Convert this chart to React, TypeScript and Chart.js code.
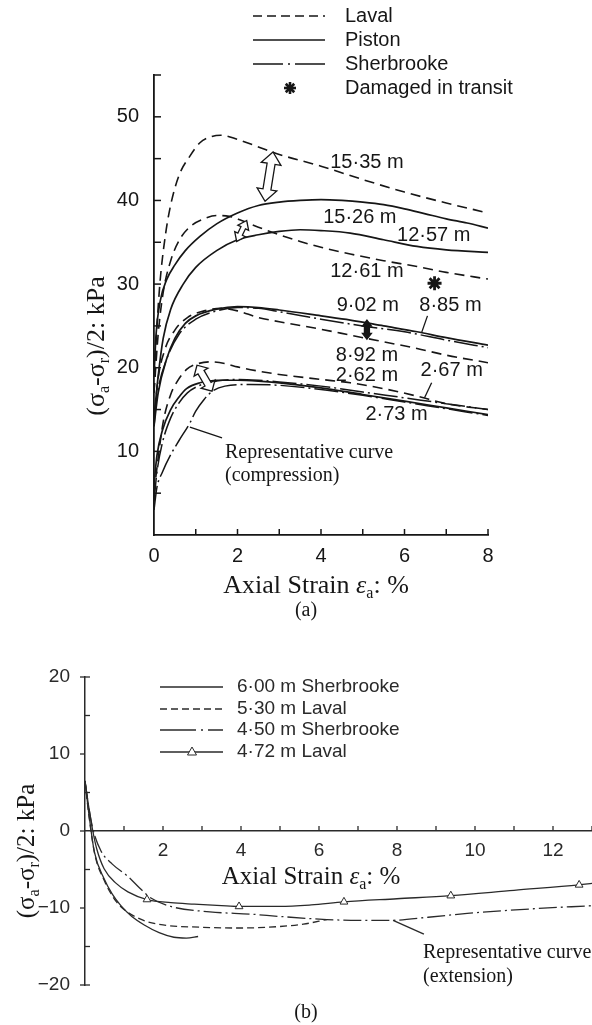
import React, { useEffect, useRef } from 'react';
import { Chart, registerables } from 'chart.js';

Chart.register(...registerables);

type P = [number, number];

// ---------- Figure (a): compression, (sigma_a - sigma_r)/2 vs axial strain ----------
const aXMax = 8;
const aYMax = 55;
const laval1535: P[] = [[0, 17], [0.05, 23], [0.14, 30], [0.25, 35], [0.38, 39], [0.6, 43], [0.86, 45.3], [1.1, 46.9], [1.35, 47.6], [1.6, 47.8], [2.0, 47.3], [2.5, 46.4], [3, 45.5], [4, 44.1], [5, 42.5], [6, 41.0], [7, 39.7], [8, 38.5]];
const piston1526: P[] = [[0, 19], [0.05, 24], [0.15, 28], [0.3, 30.5], [0.5, 32.3], [0.75, 34], [1.1, 35.7], [1.5, 37.2], [2, 38.5], [2.5, 39.4], [3, 39.8], [3.5, 40], [4, 40.1], [4.5, 40], [5, 39.8], [5.5, 39.5], [6, 39], [6.5, 38.4], [7, 37.8], [7.5, 37.3], [8, 36.7]];
const laval1261: P[] = [[0, 17], [0.1, 24], [0.22, 29], [0.4, 32.8], [0.6, 35.2], [0.85, 36.8], [1.2, 37.8], [1.5, 38.2], [1.8, 38.1], [2.1, 37.6], [2.5, 36.8], [3, 35.9], [3.5, 35.1], [4, 34.4], [4.7, 33.6], [5.5, 32.8], [6.3, 32.1], [7, 31.4], [8, 30.6]];
const piston1257: P[] = [[0, 14], [0.1, 19], [0.22, 23.5], [0.4, 27], [0.7, 30], [1, 32], [1.5, 34], [2, 35.3], [2.5, 35.9], [3, 36.3], [3.5, 36.5], [4, 36.4], [4.7, 36.1], [5.5, 35.3], [6.3, 34.5], [7, 34.1], [8, 33.8]];
const piston902: P[] = [[0, 13], [0.1, 17], [0.3, 21], [0.5, 23.5], [0.75, 25.3], [1, 26.2], [1.5, 27], [2, 27.3], [2.5, 27.2], [3, 26.9], [4, 26.2], [4.7, 25.7], [5.5, 25], [6.3, 24.3], [7, 23.6], [8, 22.7]];
const laval892: P[] = [[0, 13], [0.08, 18], [0.25, 22], [0.5, 24.5], [0.8, 26], [1.2, 26.8], [1.6, 27.1], [2, 26.8], [2.5, 26], [3, 25.5], [4, 24.6], [4.7, 23.9], [5.5, 23.1], [6.3, 22.3], [7, 21.5], [8, 20.6]];
const sher885: P[] = [[0, 14], [0.1, 17.5], [0.3, 21], [0.6, 24], [1, 25.8], [1.5, 26.8], [2, 27.2], [2.5, 27.1], [3, 26.7], [4, 25.8], [5, 25], [6, 24.3], [7, 23.3], [8, 22.4]];
const laval262: P[] = [[0, 5], [0.07, 8], [0.22, 13.5], [0.4, 16.8], [0.55, 18.3], [0.78, 19.8], [1, 20.4], [1.34, 20.7], [1.7, 20.5], [2, 20.1], [2.5, 19.6], [3, 19.2], [4, 18.6], [4.7, 18.2], [5.5, 17.5], [6.3, 16.6], [7, 15.7], [8, 15]];
const piston273: P[] = [[0, 6], [0.07, 9.5], [0.2, 12.5], [0.4, 15], [0.6, 16.5], [0.78, 17.5], [1.1, 18.2], [1.5, 18.5], [2, 18.5], [2.5, 18.4], [3, 18.2], [4, 17.6], [5, 16.8], [6, 16], [7, 15.2], [8, 14.4]];
const sher267: P[] = [[0, 4], [0.07, 7.5], [0.2, 11], [0.4, 14], [0.6, 15.8], [0.8, 17], [1.1, 17.9], [1.5, 18.4], [2, 18.6], [2.5, 18.5], [3, 18.3], [4, 17.8], [5, 17.1], [6, 16.4], [7, 15.7], [8, 15.0]];
const repCompression: P[] = [[0, 3], [0.07, 5.7], [0.2, 7.5], [0.4, 9.6], [0.6, 11.3], [0.86, 13.4], [1.0, 14.8], [1.2, 16.2], [1.4, 17.2], [1.7, 17.8], [2.3, 18.0], [3, 17.9], [4, 17.4], [5, 16.7], [6, 15.9], [7, 15.1], [8, 14.3]];
const damagedInTransit: P[] = [[6.72, 30.1]];

// ---------- Figure (b): extension ----------
const bXMax = 13;
const bYMin = -20;
const bYMax = 20;
const sher600: P[] = [[0, 6.5], [0.1, 2.2], [0.24, -2.7], [0.49, -6.2], [0.7, -8.2], [0.92, -9.7], [1.2, -11.1], [1.52, -12.2], [1.9, -13.2], [2.28, -13.8], [2.6, -13.9], [2.9, -13.7]];
const laval530: P[] = [[0, 6.5], [0.1, 2], [0.25, -3], [0.5, -6.5], [0.75, -8.8], [1, -10.2], [1.5, -11.6], [2, -12.2], [3, -12.5], [4, -12.6], [5, -12.4], [5.6, -12.1], [6.2, -11.5]];
const sher450: P[] = [[0, 6.5], [0.1, 3], [0.2, 0.3], [0.41, -2.6], [0.7, -4.3], [1.1, -5.9], [1.4, -7.4], [1.69, -8.7], [2.2, -9.8], [3.2, -10.5], [4.26, -10.8], [5, -11.1], [6.2, -11.5], [7, -11.6], [7.85, -11.6], [8.8, -11.2], [9.8, -10.7], [11.5, -10.1], [13, -9.7]];
const laval472: P[] = [[0, 6.5], [0.1, 3], [0.2, 0], [0.3, -2.3], [0.49, -4.9], [0.8, -6.8], [1.1, -7.9], [1.59, -8.9], [2.2, -9.3], [2.8, -9.5], [3.5, -9.7], [3.95, -9.8], [5, -9.8], [5.8, -9.6], [6.64, -9.2], [8, -8.8], [9.38, -8.4], [11, -7.7], [12.67, -7.0], [13, -6.8]];
const laval472Markers = [1.59, 3.95, 6.64, 9.38, 12.67];

// ---------- annotation texts ----------
const aCurveLabels: { text: string; x: number; y: number }[] = [
  { text: '15·35 m', x: 5.1, y: 44.5 },
  { text: '15·26 m', x: 4.93, y: 38.0 },
  { text: '12·57 m', x: 6.7, y: 35.8 },
  { text: '12·61 m', x: 5.1, y: 31.5 },
  { text: '9·02 m', x: 5.12, y: 27.5 },
  { text: '8·85 m', x: 7.1, y: 27.5 },
  { text: '8·92 m', x: 5.1, y: 21.5 },
  { text: '2·62 m', x: 5.1, y: 19.1 },
  { text: '2·67 m', x: 7.13, y: 19.7 },
  { text: '2·73 m', x: 5.81, y: 14.35 },
];
const aArrows = [
  { from: [2.85, 45.8], to: [2.66, 39.9], head: 12, half: 10, shaft: 4, filled: false },
  { from: [2.22, 37.6], to: [1.98, 35.1], head: 8, half: 6, shaft: 2.5, filled: false },
  { from: [5.1, 25.7], to: [5.1, 23.4], head: 6, half: 4.5, shaft: 2.5, filled: true },
  { from: [1.03, 20.3], to: [1.39, 17.2], head: 8, half: 8, shaft: 3.5, filled: false },
];
const aLeaders: [P, P][] = [
  [[6.55, 26.2], [6.41, 24.2]],
  [[6.65, 18.2], [6.48, 16.4]],
  [[0.86, 12.9], [1.63, 11.6]],
];
const bLeaders: [P, P][] = [[[7.9, -11.6], [8.69, -13.4]]];

const SANS = "'Liberation Sans', Arial, Helvetica, sans-serif";
const SERIF = "'Liberation Serif', 'Times New Roman', Times, serif";
const INK = '#161616';
const INK_B = '#2a2a2a';
const DASH_A = [10, 6];
const DASHDOT_A = [24, 4, 2, 4];
const DASH_B = [7, 4];
const DASHDOT_B = [18, 4, 2, 4];

const toXY = (pts: P[]) => pts.map(([x, y]) => ({ x, y }));

function curve(pts: P[], dash: number[], width: number, color: string) {
  return {
    type: 'line',
    data: toXY(pts),
    borderColor: color,
    borderWidth: width,
    borderDash: dash,
    pointRadius: 0,
    fill: false,
    cubicInterpolationMode: 'monotone',
  };
}

function seg(ctx: CanvasRenderingContext2D, x1: number, y1: number, x2: number, y2: number) {
  ctx.beginPath();
  ctx.moveTo(x1, y1);
  ctx.lineTo(x2, y2);
  ctx.stroke();
}

type Part = { t: string; sub?: boolean; italic?: boolean };
function drawRich(ctx: CanvasRenderingContext2D, parts: Part[], x: number, y: number, size: number, family: string, align: 'center' | 'left' = 'center') {
  const font = (p: Part) => `${p.italic ? 'italic ' : ''}${p.sub ? Math.round(size * 0.62) : size}px ${family}`;
  let w = 0;
  for (const p of parts) { ctx.font = font(p); w += ctx.measureText(p.t).width; }
  let cx = align === 'center' ? x - w / 2 : x;
  ctx.textAlign = 'left';
  ctx.textBaseline = 'middle';
  for (const p of parts) {
    ctx.font = font(p);
    ctx.fillText(p.t, cx, y + (p.sub ? size * 0.3 : 0));
    cx += ctx.measureText(p.t).width;
  }
}

function text(ctx: CanvasRenderingContext2D, t: string, x: number, y: number, size: number, family: string, align: CanvasTextAlign = 'left') {
  ctx.font = `${size}px ${family}`;
  ctx.textAlign = align;
  ctx.textBaseline = 'middle';
  ctx.fillText(t, x, y);
}

function doubleArrow(ctx: CanvasRenderingContext2D, x1: number, y1: number, x2: number, y2: number, h: number, w: number, s: number, filled: boolean) {
  const dx = x2 - x1, dy = y2 - y1, L = Math.hypot(dx, dy);
  const ux = dx / L, uy = dy / L, nx = -uy, ny = ux;
  const Pt = (bx: number, by: number, a: number, b: number) => [bx + ux * a + nx * b, by + uy * a + ny * b];
  const pts = [
    [x1, y1], Pt(x1, y1, h, w), Pt(x1, y1, h, s), Pt(x2, y2, -h, s), Pt(x2, y2, -h, w),
    [x2, y2], Pt(x2, y2, -h, -w), Pt(x2, y2, -h, -s), Pt(x1, y1, h, -s), Pt(x1, y1, h, -w),
  ];
  ctx.beginPath();
  pts.forEach((p, i) => (i ? ctx.lineTo(p[0], p[1]) : ctx.moveTo(p[0], p[1])));
  ctx.closePath();
  ctx.fillStyle = filled ? INK : '#fff';
  ctx.fill();
  ctx.lineWidth = 1.3;
  ctx.strokeStyle = INK;
  ctx.stroke();
}

function asterisk(ctx: CanvasRenderingContext2D, x: number, y: number, r: number, lw: number) {
  ctx.lineWidth = lw;
  for (let k = 0; k < 4; k++) {
    const a = (k * Math.PI) / 4;
    seg(ctx, x - r * Math.cos(a), y - r * Math.sin(a), x + r * Math.cos(a), y + r * Math.sin(a));
  }
}

function triangle(ctx: CanvasRenderingContext2D, x: number, y: number, r: number) {
  ctx.beginPath();
  ctx.moveTo(x, y - r);
  ctx.lineTo(x + r * 0.9, y + r * 0.6);
  ctx.lineTo(x - r * 0.9, y + r * 0.6);
  ctx.closePath();
  ctx.fillStyle = '#fff';
  ctx.fill();
  ctx.stroke();
}

const decorA = {
  id: 'decorA',
  afterDatasetsDraw(chart: any) {
    const ctx: CanvasRenderingContext2D = chart.ctx;
    const xs = chart.scales.x, ys = chart.scales.y;
    const X = (v: number) => xs.getPixelForValue(v);
    const Y = (v: number) => ys.getPixelForValue(v);
    ctx.save();
    ctx.strokeStyle = INK;
    ctx.fillStyle = INK;
    ctx.setLineDash([]);
    // inward tick marks
    ctx.lineWidth = 1.5;
    for (let v = 1; v <= aXMax; v++) seg(ctx, X(v), ys.bottom, X(v), ys.bottom - 6);
    for (let v = 5; v <= aYMax; v += 5) seg(ctx, xs.left, Y(v), xs.left + 7, Y(v));
    // leader lines
    ctx.lineWidth = 1.3;
    for (const [p, q] of aLeaders) seg(ctx, X(p[0]), Y(p[1]), X(q[0]), Y(q[1]));
    // arrows
    for (const a of aArrows) doubleArrow(ctx, X(a.from[0]), Y(a.from[1]), X(a.to[0]), Y(a.to[1]), a.head, a.half, a.shaft, a.filled);
    // curve labels
    ctx.fillStyle = INK;
    for (const l of aCurveLabels) text(ctx, l.text, X(l.x), Y(l.y), 20, SANS, 'center');
    text(ctx, 'Representative curve', X(1.7), Y(9.8), 20, SERIF, 'left');
    text(ctx, '(compression)', X(1.7), Y(7.1), 20, SERIF, 'left');
    // legend
    const rows = [
      { label: 'Laval', dash: [9, 5], y: 16 },
      { label: 'Piston', dash: [] as number[], y: 40 },
      { label: 'Sherbrooke', dash: [30, 5, 2, 5], y: 64 },
    ];
    ctx.lineWidth = 1.6;
    for (const r of rows) {
      ctx.setLineDash(r.dash);
      seg(ctx, 253, r.y, 325, r.y);
      ctx.setLineDash([]);
      text(ctx, r.label, 345, r.y, 20, SANS);
    }
    asterisk(ctx, 290, 88, 6, 2.6);
    text(ctx, 'Damaged in transit', 345, 88, 20, SANS);
    // axis titles
    drawRich(ctx, [{ t: 'Axial Strain ' }, { t: 'ε', italic: true }, { t: 'a', sub: true }, { t: ': %' }], 316, 586, 26, SERIF);
    ctx.save();
    ctx.translate(97, 346);
    ctx.rotate(-Math.PI / 2);
    drawRich(ctx, [{ t: '(σ' }, { t: 'a', sub: true }, { t: '-σ' }, { t: 'r', sub: true }, { t: ')/2: kPa' }], 0, 0, 26, SERIF);
    ctx.restore();
    text(ctx, '(a)', 306, 611, 20, SERIF, 'center');
    ctx.restore();
  },
};

const decorB = {
  id: 'decorB',
  afterDatasetsDraw(chart: any) {
    const ctx: CanvasRenderingContext2D = chart.ctx;
    const xs = chart.scales.x, ys = chart.scales.y;
    const X = (v: number) => xs.getPixelForValue(v);
    const Y = (v: number) => ys.getPixelForValue(v);
    ctx.save();
    ctx.strokeStyle = INK_B;
    ctx.fillStyle = INK_B;
    ctx.setLineDash([]);
    ctx.lineWidth = 1.3;
    for (let v = 1; v <= bXMax; v++) seg(ctx, X(v), Y(0), X(v), Y(0) - 5);
    for (let v = bYMin; v <= bYMax; v += 5) {
      if (v % 10 === 0) seg(ctx, xs.left - 5, Y(v), xs.left, Y(v));
      else seg(ctx, xs.left, Y(v), xs.left + 5, Y(v));
    }
    seg(ctx, xs.left, Y(bYMax), xs.left + 5, Y(bYMax));
    seg(ctx, xs.left, Y(bYMin), xs.left + 5, Y(bYMin));
    for (const [p, q] of bLeaders) seg(ctx, X(p[0]), Y(p[1]), X(q[0]), Y(q[1]));
    // legend
    const rows = [
      { label: '6·00 m Sherbrooke', dash: [] as number[], y: 57 },
      { label: '5·30 m Laval', dash: [7, 4], y: 79 },
      { label: '4·50 m Sherbrooke', dash: [36, 5, 2, 5], y: 100 },
      { label: '4·72 m Laval', dash: [] as number[], y: 122, tri: true },
    ];
    ctx.lineWidth = 1.3;
    for (const r of rows) {
      ctx.setLineDash(r.dash);
      seg(ctx, 160, r.y, 223, r.y);
      ctx.setLineDash([]);
      if ((r as any).tri) { ctx.lineWidth = 1; triangle(ctx, 192, r.y, 5); ctx.lineWidth = 1.3; }
      ctx.fillStyle = INK_B;
      text(ctx, r.label, 237, r.y, 19, SANS);
    }
    // titles and notes
    ctx.fillStyle = INK;
    drawRich(ctx, [{ t: 'Axial Strain ' }, { t: 'ε', italic: true }, { t: 'a', sub: true }, { t: ': %' }], 311, 247, 25, SERIF);
    ctx.save();
    ctx.translate(27, 221);
    ctx.rotate(-Math.PI / 2);
    drawRich(ctx, [{ t: '(σ' }, { t: 'a', sub: true }, { t: '-σ' }, { t: 'r', sub: true }, { t: ')/2: kPa' }], 0, 0, 25, SERIF);
    ctx.restore();
    text(ctx, 'Representative curve', 423, 323, 20, SERIF, 'left');
    text(ctx, '(extension)', 423, 347, 20, SERIF, 'left');
    text(ctx, '(b)', 306, 383, 20, SERIF, 'center');
    ctx.restore();
  },
};

function configA(): any {
  return {
    type: 'line',
    data: {
      datasets: [
        curve(laval1535, DASH_A, 1.6, INK),
        curve(piston1526, [], 1.7, INK),
        curve(laval1261, DASH_A, 1.6, INK),
        curve(piston1257, [], 1.7, INK),
        curve(piston902, [], 1.7, INK),
        curve(laval892, DASH_A, 1.6, INK),
        curve(sher885, DASHDOT_A, 1.5, INK),
        curve(laval262, DASH_A, 1.6, INK),
        curve(piston273, [], 1.7, INK),
        curve(sher267, DASHDOT_A, 1.5, INK),
        curve(repCompression, DASHDOT_A, 1.5, INK),
        {
          type: 'scatter',
          data: toXY(damagedInTransit),
          showLine: false,
          pointStyle: 'star',
          pointRadius: 7,
          borderWidth: 2.8,
          borderColor: INK,
          backgroundColor: INK,
        },
      ],
    },
    options: {
      responsive: false,
      animation: false,
      devicePixelRatio: 1,
      layout: { padding: { top: 75, right: 104, left: 0, bottom: 0 } },
      plugins: { legend: { display: false }, tooltip: { enabled: false } },
      scales: {
        x: {
          type: 'linear', min: 0, max: aXMax,
          grid: { display: false },
          border: { display: true, color: INK, width: 1.8 },
          ticks: {
            stepSize: 1, autoSkip: false, maxRotation: 0, padding: 1, color: INK,
            font: { family: SANS, size: 20 },
            callback: (v: number) => (v % 2 === 0 ? String(v) : ''),
          },
          afterFit: (s: any) => { s.height = 95; },
        },
        y: {
          type: 'linear', min: 0, max: aYMax,
          grid: { display: false },
          border: { display: true, color: INK, width: 1.8 },
          ticks: {
            stepSize: 5, autoSkip: false, padding: 7, color: INK,
            font: { family: SANS, size: 20 },
            callback: (v: number) => (v > 0 && v % 10 === 0 ? String(v) : ''),
          },
          afterFit: (s: any) => { s.width = 154; },
        },
      },
    },
    plugins: [decorA],
  };
}

function configB(): any {
  const triRadius = laval472.map(([x]) => (laval472Markers.includes(x) ? 4.5 : 0));
  return {
    type: 'line',
    data: {
      datasets: [
        curve(sher600, [], 1.3, INK_B),
        curve(laval530, DASH_B, 1.3, INK_B),
        curve(sher450, DASHDOT_B, 1.3, INK_B),
        {
          ...curve(laval472, [], 1.3, INK_B),
          pointRadius: triRadius,
          pointStyle: 'triangle',
          pointBackgroundColor: '#fff',
          pointBorderColor: INK_B,
          pointBorderWidth: 1,
        },
      ],
    },
    options: {
      responsive: false,
      animation: false,
      devicePixelRatio: 1,
      layout: { padding: { top: 47, right: 0, left: 0, bottom: 40 } },
      plugins: { legend: { display: false }, tooltip: { enabled: false } },
      scales: {
        x: {
          type: 'linear', min: 0, max: bXMax, position: { y: 0 },
          grid: { display: false },
          border: { display: true, color: INK_B, width: 1.5 },
          ticks: {
            stepSize: 1, autoSkip: false, maxRotation: 0, padding: 0, color: INK_B,
            font: { family: SANS, size: 19 },
            callback: (v: number) => (v > 0 && v % 2 === 0 ? String(v) : ''),
          },
        },
        y: {
          type: 'linear', min: bYMin, max: bYMax,
          grid: { display: false },
          border: { display: true, color: INK_B, width: 1.5 },
          ticks: {
            stepSize: 5, autoSkip: false, padding: 7, color: INK_B,
            font: { family: SANS, size: 19 },
            callback: (v: number) => (v % 10 === 0 ? (v < 0 ? '−' + Math.abs(v) : String(v)) : ''),
          },
          afterFit: (s: any) => { s.width = 85; },
        },
      },
    },
    plugins: [decorB],
  };
}

export default function App() {
  const refA = useRef<HTMLCanvasElement>(null);
  const refB = useRef<HTMLCanvasElement>(null);
  useEffect(() => {
    const cA = new Chart(refA.current as HTMLCanvasElement, configA());
    const cB = new Chart(refB.current as HTMLCanvasElement, configB());
    return () => {
      cA.destroy();
      cB.destroy();
    };
  }, []);
  return (
    <div style={{ position: 'absolute', left: 0, top: 0, width: 592, height: 1025, background: '#fff', overflow: 'hidden' }}>
      <canvas ref={refA} width={592} height={630} style={{ position: 'absolute', left: 0, top: 0, width: 592, height: 630 }} />
      <canvas ref={refB} width={592} height={395} style={{ position: 'absolute', left: 0, top: 630, width: 592, height: 395 }} />
    </div>
  );
}
